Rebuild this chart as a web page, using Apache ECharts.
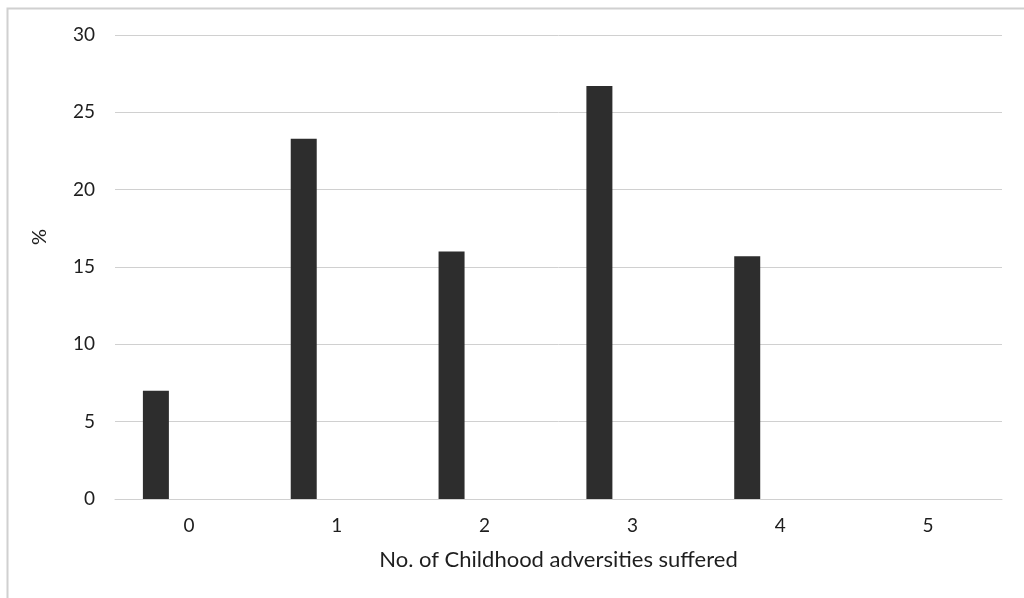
<!DOCTYPE html>
<html>
<head>
<meta charset="utf-8">
<script src="https://cdn.jsdelivr.net/npm/echarts@6/dist/echarts.min.js"></script>
<style>
  html, body { margin: 0; padding: 0; background: #fff; }
  #chart { width: 1024px; height: 598px; }
</style>
</head>
<body>
<div id="chart"></div>
<script>
// Share of respondents by number of childhood adversities suffered
const categories = ['0', '1', '2', '3', '4', '5'];
const percentValues = [7.0, 23.3, 16.0, 26.7, 15.7, 0];
// second (empty) series slot in each cluster
const emptySlot = [null, null, null, null, null, null];
const yTicks = { min: 0, max: 30, interval: 5 };

const textColor = '#1e1e1e';
const fontFamily = 'Lato, "Open Sans", sans-serif';

const chart = echarts.init(document.getElementById('chart'), null, { renderer: 'canvas' });

chart.setOption({
  animation: false,
  backgroundColor: '#ffffff',
  grid: { left: 115, right: 22, top: 35, bottom: 99, containLabel: false },
  xAxis: {
    type: 'category',
    data: categories,
    axisLine: { show: true, lineStyle: { color: '#d0d0d0', width: 1 } },
    axisTick: { show: false },
    axisLabel: { color: textColor, fontSize: 19, fontFamily: fontFamily, margin: 17 },
    name: 'No. of Childhood adversities suffered',
    nameLocation: 'middle',
    nameGap: 50,
    nameTextStyle: { color: textColor, fontSize: 22, fontFamily: fontFamily }
  },
  yAxis: {
    type: 'value',
    min: yTicks.min,
    max: yTicks.max,
    interval: yTicks.interval,
    axisLine: { show: false },
    axisTick: { show: false },
    splitLine: { lineStyle: { color: '#d0d0d0', width: 1 } },
    axisLabel: { color: textColor, fontSize: 19, fontFamily: fontFamily, margin: 20 }
  },
  graphic: [
    {
      type: 'rect',
      shape: { x: 7.5, y: 8.5, width: 1040, height: 620 },
      style: { fill: 'none', stroke: '#d0d0d0', lineWidth: 2 },
      silent: true
    },
    {
      type: 'text',
      x: 40, y: 237,
      rotation: Math.PI / 2,
      style: {
        text: '%',
        fill: textColor,
        font: '20px ' + fontFamily,
        align: 'center',
        verticalAlign: 'middle'
      }
    }
  ],
  series: [
    {
      type: 'bar',
      data: percentValues,
      barWidth: 26,
      barGap: '154%',
      itemStyle: { color: '#2d2d2d' }
    },
    {
      type: 'bar',
      data: emptySlot,
      barWidth: 26,
      barGap: '154%',
      itemStyle: { color: '#7f7f7f' }
    }
  ]
});
</script>
</body>
</html>
